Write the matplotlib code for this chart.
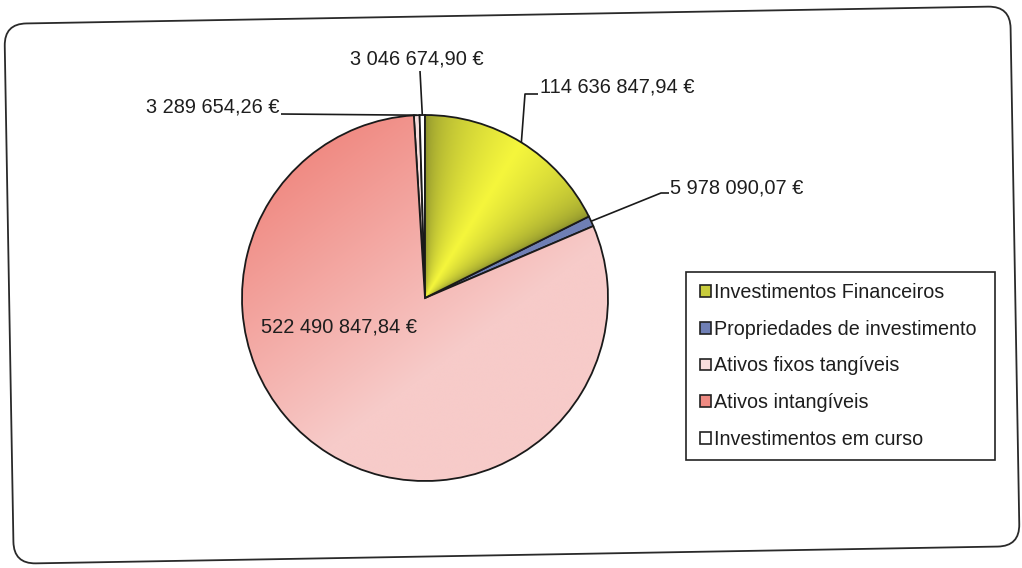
import numpy as np
import matplotlib.pyplot as plt
from matplotlib.patches import FancyBboxPatch, Patch, Rectangle
from matplotlib.transforms import Affine2D
from matplotlib.colors import to_rgb

plt.rcParams['font.family'] = ['Liberation Sans', 'DejaVu Sans']

# Data
categories = ["Investimentos Financeiros", "Propriedades de investimento",
              "Ativos fixos tangíveis", "Ativos intangíveis", "Investimentos em curso"]
values = [114636847.94, 5978090.07, 3289654.26, 522490847.84, 3046674.90]
value_labels = ["114 636 847,94 €", "5 978 090,07 €", "3 289 654,26 €",
                "522 490 847,84 €", "3 046 674,90 €"]
# slices run clockwise from 12 o'clock in this order
slice_order = [0, 1, 3, 2, 4]
colors = ["#c8cc3c", "#6f7fb5", "#f7dede", "#ee8a82", "#ffffff"]

W, H = 1022, 568
fig = plt.figure(figsize=(W / 100, H / 100), dpi=100)
ax = fig.add_axes([0, 0, 1, 1])

def py(y):
    return H - y

cx, cy, R = 425, py(298), 183
edge = "#1a1a1a"
txt = "#1e1e1e"

wedges, _ = ax.pie([values[i] for i in slice_order],
                   colors=[colors[i] for i in slice_order],
                   startangle=90, counterclock=False,
                   center=(cx, cy), radius=R,
                   wedgeprops=dict(edgecolor=edge, linewidth=1.3))
wedge_of = {cat: w for cat, w in zip(slice_order, wedges)}

# gradient fills for the two big slices
n = 500
xs = np.linspace(cx - R, cx + R, n)
ys = np.linspace(cy - R, cy + R, n)
X, Y = np.meshgrid(xs, ys)
theta = np.degrees(np.arctan2(Y - cy, X - cx)) % 360

def lerp(c0, c1, t):
    c0, c1 = np.array(to_rgb(c0)), np.array(to_rgb(c1))
    return c0 + (c1 - c0) * t[..., None]

# Investimentos Financeiros: olive at the edges, bright yellow in the middle
wy = wedge_of[0]
t = np.clip((theta - wy.theta1) / (wy.theta2 - wy.theta1), 0, 1)
s = np.clip(1 - np.abs(2 * t - 1), 0, 1) ** 0.4
img_y = lerp("#7a802a", "#f5f63c", s)

# Ativos intangíveis: salmon at the top left, pale pink towards the bottom right
wp = wedge_of[3]
u = (0.6 * (X - (cx - R)) + 0.8 * ((cy + R) - Y)) / (2.8 * R)
img_p = lerp("#f08880", "#f7cbc9", np.clip((u - 0.12) / 0.5, 0, 1))

for w, img in ((wy, img_y), (wp, img_p)):
    im = ax.imshow(img, extent=(cx - R, cx + R, cy - R, cy + R),
                   origin="lower", zorder=1.5, interpolation="bilinear")
    im.set_clip_path(w)
    w.set_facecolor("none")
    w.set_zorder(2)

# value labels with leader lines
def anchor(cat):
    w = wedge_of[cat]
    a = np.radians((w.theta1 + w.theta2) / 2)
    return cx + R * np.cos(a), cy + R * np.sin(a)

fs = 14.4
lk = dict(color=edge, lw=1.2, zorder=4, solid_capstyle="butt")

# Investimentos Financeiros
ax0, ay0 = anchor(0)
ax.plot([ax0, 525, 538], [ay0, py(94), py(94)], **lk)
ax.text(540, py(87), value_labels[0], ha="left", va="center", fontsize=fs, color=txt)

# Propriedades de investimento
ax1, ay1 = anchor(1)
ax.plot([ax1, 661, 669], [ay1, py(193), py(193)], **lk)
ax.text(670, py(188), value_labels[1], ha="left", va="center", fontsize=fs, color=txt)

# Ativos fixos tangíveis
ax2, ay2 = anchor(2)
ax.plot([ax2, 281], [ay2, py(114)], **lk)
ax.text(279, py(107), value_labels[2], ha="right", va="center", fontsize=fs, color=txt)

# Ativos intangíveis (inside the slice)
ax.text(261, py(327), value_labels[3], ha="left", va="center", fontsize=fs, color=txt,
        zorder=5)

# Investimentos em curso
ax4, ay4 = anchor(4)
ax.plot([ax4, 420], [ay4, py(71)], **lk)
ax.text(417, py(59), value_labels[4], ha="center", va="center", fontsize=fs, color=txt)

# legend in category order, inside a plain box
ax.add_patch(Rectangle((686, py(460)), 309, 188, facecolor="white",
                       edgecolor="#222222", linewidth=1.2, zorder=4))
handles = [Patch(facecolor=c, edgecolor="#222222", linewidth=1.2) for c in colors]
leg = ax.legend(handles, categories, loc="upper left",
                bbox_to_anchor=(700 / W, 1 - 283 / H), bbox_transform=fig.transFigure,
                frameon=False, fontsize=14.2,
                handlelength=0.55, handleheight=0.55, handletextpad=0.15,
                labelspacing=0.9, borderpad=0, borderaxespad=0)
leg.set_zorder(5)
for t_ in leg.get_texts():
    t_.set_color(txt)

# rounded outer frame, slightly rotated
frame = FancyBboxPatch((512 - 503, py(285) - 270), 1006, 540,
                       boxstyle="round,pad=0,rounding_size=22",
                       facecolor="none", edgecolor="#2a2a2a", linewidth=1.3,
                       transform=Affine2D().rotate_deg_around(512, py(285), 1.0) + ax.transData,
                       zorder=6)
ax.add_patch(frame)

ax.set_xlim(0, W)
ax.set_ylim(0, H)
ax.set_aspect("equal")
ax.axis("off")

fig.savefig("out.png", dpi=100, facecolor="white")
